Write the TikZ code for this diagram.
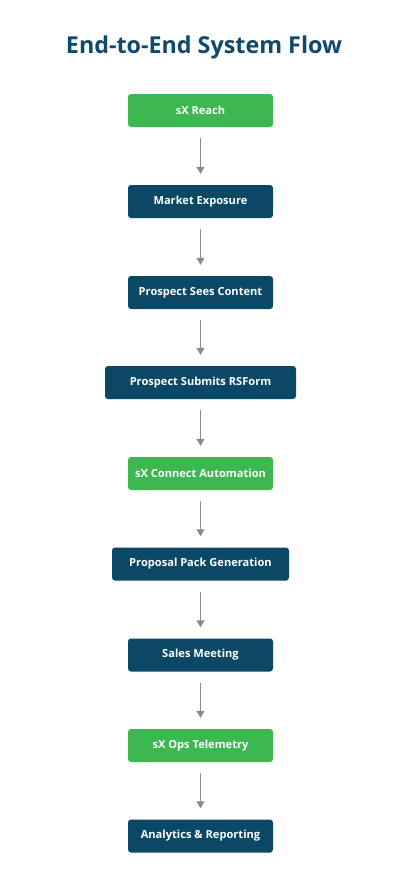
\documentclass[tikz,border=0pt]{standalone}
\usepackage{fontspec}
\setmainfont{Open Sans}
\usetikzlibrary{arrows.meta}
\definecolor{navy}{HTML}{0B4866}
\definecolor{titleblue}{HTML}{0F4A6C}
\definecolor{leaf}{HTML}{3DB851}
\definecolor{arrowgray}{HTML}{8A8A8A}
\tikzset{
  box/.style={rectangle, rounded corners=3pt, minimum height=33pt, minimum width=145pt,
    inner sep=0pt, text=white, font=\fontsize{11.1}{13}\selectfont\bfseries},
  navybox/.style={box, fill=navy},
  greenbox/.style={box, fill=leaf},
  arr/.style={draw=arrowgray, line width=1.1pt, -{Triangle[length=7pt,width=8pt]}}
}
\begin{document}
\begin{tikzpicture}[x=1pt,y=-1pt]
\useasboundingbox (0,0) rectangle (407,886);
\node[font=\fontsize{23.3}{27}\selectfont\bfseries, text=titleblue] (title) at (204,47) {End-to-End System Flow};
\node[greenbox] (n1) at (200.5,110.5) {sX Reach};
\node[navybox] (n2) at (200.5,201.5) {Market Exposure};
\node[navybox] (n3) at (200.5,292.5) {Prospect Sees Content};
\node[navybox, minimum width=191pt] (n4) at (200.5,382.5) {Prospect Submits RSForm};
\node[greenbox] (n5) at (200.5,473.5) {sX Connect Automation};
\node[navybox, minimum width=177pt] (n6) at (200.5,564) {Proposal Pack Generation};
\node[navybox] (n7) at (200.5,655) {Sales Meeting};
\node[greenbox] (n8) at (200.5,745.5) {sX Ops Telemetry};
\node[navybox] (n9) at (200.5,836) {Analytics \& Reporting};
\foreach \a/\b in {n1/n2,n2/n3,n3/n4,n4/n5,n5/n6,n6/n7,n7/n8,n8/n9}
  \draw[arr] ([yshift=-11pt]\a.south) -- ([yshift=11pt]\b.north);
\end{tikzpicture}
\end{document}
